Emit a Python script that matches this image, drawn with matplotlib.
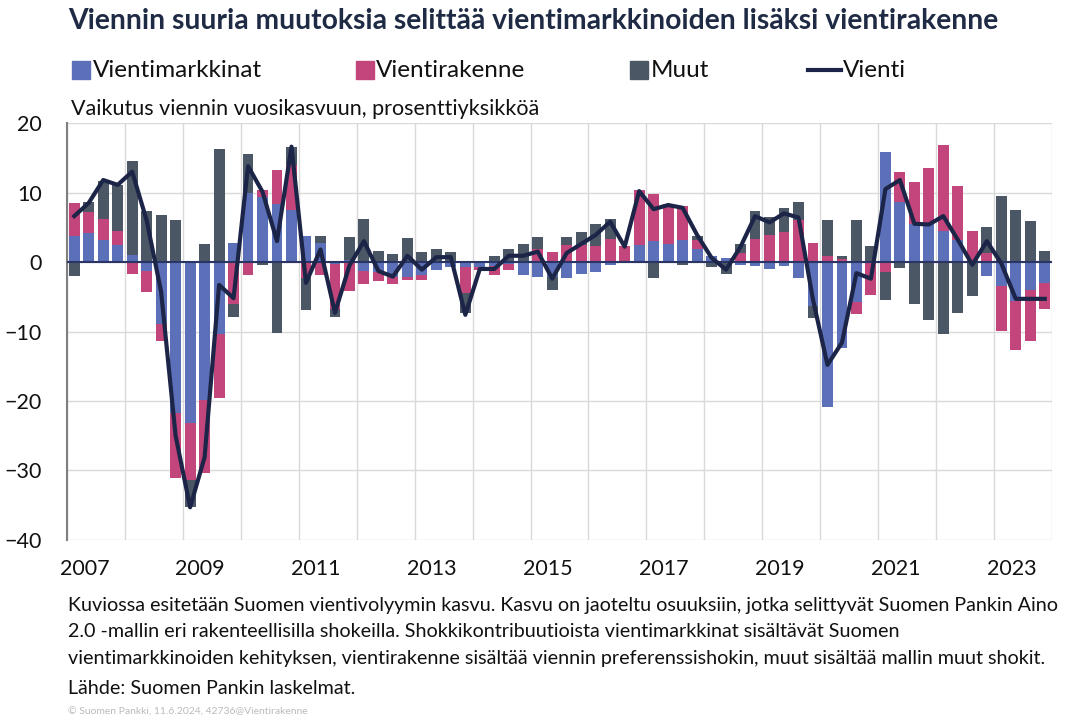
import matplotlib
matplotlib.use('Agg')
import matplotlib.pyplot as plt
import numpy as np
from matplotlib.patches import Rectangle
from matplotlib.lines import Line2D

plt.rcParams['font.family'] = ['Lato', 'DejaVu Sans']

# neljännesvuodet 2007Q1 - 2023Q4
vientimarkkinat = [3.8, 4.2, 3.1, 2.5, 1.0, -1.3, -8.9, -21.7, -23.2, -19.9, -10.3, 2.8,
                   10.0, 9.4, 8.3, 7.5, 3.7, 2.8, -0.3, 0.3, -1.3, -1.4, -2.1, -2.2,
                   -1.9, -1.1, -0.7, -0.7, -0.7, -0.6, -0.3, -1.8, -2.2, -2.1, -2.3, -1.7,
                   -1.5, -0.4, 0.0, 2.5, 3.0, 2.6, 3.1, 1.9, 0.9, 0.6, -0.4, -0.6,
                   -1.0, -0.6, -2.3, -6.4, -20.8, -12.4, -5.8, 0.0, 15.9, 8.7, 5.4, 5.4,
                   4.4, 3.2, 0.0, -2.0, -3.4, -5.6, -4.0, -3.0]
vientirakenne = [4.7, 3.0, 3.1, 2.0, -1.7, -3.0, -2.4, -9.4, -8.1, -10.5, -9.2, -6.1,
                 -1.8, 1.0, 5.0, 6.5, -2.3, -1.8, -6.5, -4.1, -1.8, -1.4, -1.1, -0.4,
                 -0.7, 0.0, 0.0, -3.7, -0.4, -1.2, -0.8, 0.0, 1.9, 1.4, 2.5, 2.5,
                 2.3, 3.3, 2.3, 7.8, 6.8, 5.7, 5.0, 1.2, 0.0, 0.0, 1.3, 3.3,
                 3.9, 4.3, 6.1, 2.7, 0.9, 0.5, -1.7, -4.8, -1.5, 4.2, 6.1, 8.2,
                 12.5, 7.7, 4.5, 1.3, -6.5, -7.1, -7.3, -3.8]
muut = [-2.0, 1.4, 5.4, 6.6, 13.5, 7.4, 6.8, 6.0, -4.0, 2.6, 16.2, -1.8,
        5.6, -0.4, -10.2, 2.6, -4.6, 0.9, -1.1, 3.3, 6.2, 1.6, 1.1, 3.5,
        1.4, 1.9, 1.4, -3.0, 0.2, 0.8, 1.9, 2.6, 1.7, -1.9, 1.1, 1.8,
        3.1, 2.9, 0.0, 0.0, -2.3, -0.2, -0.5, 0.7, -0.7, -1.7, 1.3, 4.0,
        2.6, 3.5, 2.5, -1.7, 5.1, 0.3, 6.0, 2.3, -4.0, -0.9, -6.0, -8.3,
        -10.4, -7.4, -4.9, 3.7, 9.5, 7.5, 5.9, 1.6]
vienti = [6.6, 8.5, 11.8, 11.1, 13.0, 6.0, -4.3, -25.0, -35.3, -28.1, -3.3, -5.2,
          13.8, 10.1, 3.0, 16.6, -3.0, 1.8, -7.3, -0.5, 3.0, -1.3, -2.1, 0.9,
          -1.1, 0.7, 0.7, -7.6, -1.0, -1.0, 0.9, 0.9, 1.5, -2.4, 1.3, 2.6,
          3.9, 5.8, 2.2, 10.2, 7.6, 8.2, 7.8, 3.9, 0.6, -1.1, 2.2, 6.6,
          5.7, 7.0, 6.4, -5.4, -14.8, -11.6, -1.6, -2.4, 10.5, 11.8, 5.5, 5.4,
          6.6, 3.2, -0.4, 3.0, -0.2, -5.3, -5.3, -5.3]

vuodet = list(range(2007, 2024, 2))
sarjat = ['Vientimarkkinat', 'Vientirakenne', 'Muut']
varit = ['#5b70b8', '#c2467b', '#4c5766']
viivan_vari = '#1c2547'

fig = plt.figure(figsize=(10.75, 7.22), dpi=100)
ax = fig.add_axes([0.0623, 0.2521, 0.9163, 0.5775])

x = np.arange(len(vienti))
pos_pohja = np.zeros(len(x))
neg_pohja = np.zeros(len(x))
for nimi, arvot, vari in zip(sarjat, [vientimarkkinat, vientirakenne, muut], varit):
    arvot = np.array(arvot)
    pos = np.where(arvot > 0, arvot, 0)
    neg = np.where(arvot < 0, arvot, 0)
    ax.bar(x, pos, 0.75, bottom=pos_pohja, color=vari, zorder=2)
    ax.bar(x, neg, 0.75, bottom=neg_pohja, color=vari, zorder=2)
    pos_pohja += pos
    neg_pohja += neg

ax.axhline(0, color='#2a3566', lw=1.5, zorder=3)
ax.plot(x, vienti, color=viivan_vari, lw=3, zorder=4, solid_joinstyle='round')

ax.set_xlim(-0.5, len(x) - 0.5)
ax.set_ylim(-40, 20)
ax.set_yticks(range(-40, 21, 10))
ax.set_xticks(np.arange(len(x) + 1)[::4] - 0.5, minor=True)
ax.set_xticks([(v - 2007) * 4 + 0.7 for v in vuodet])
ax.set_xticklabels([str(v) for v in vuodet])
ax.grid(True, axis='y', color='#d9d9d9', lw=1, zorder=0)
ax.grid(True, axis='x', which='minor', color='#d9d9d9', lw=1, zorder=0)
ax.tick_params(axis='both', which='both', length=0, labelsize=15.5, colors='#111111')
ax.tick_params(axis='x', pad=14)
ax.tick_params(axis='y', pad=18)
for s in ['top', 'right', 'bottom']:
    ax.spines[s].set_visible(False)
ax.spines['left'].set_color('#7f7f7f')
ax.spines['left'].set_linewidth(1.5)

# otsikko ja selitteet
fig.text(0.063, 0.971, 'Viennin suuria muutoksia selittää vientimarkkinoiden lisäksi vientirakenne',
         fontsize=20.3, fontweight='bold', color='#1f2a44', va='center')
sel_y = 0.903
for nimi, vari, xs in zip(sarjat, varit, [0.067, 0.331, 0.586]):
    fig.add_artist(Rectangle((xs, sel_y - 0.012), 0.017, 0.024, color=vari,
                             transform=fig.transFigure))
    fig.text(xs + 0.019, sel_y, nimi, fontsize=17.5, va='center', color='#111111')
fig.add_artist(Line2D([0.752, 0.782], [sel_y, sel_y], color=viivan_vari, lw=3,
                      transform=fig.transFigure))
fig.text(0.784, sel_y, 'Vienti', fontsize=17.5, va='center', color='#111111')

fig.text(0.066, 0.849, 'Vaikutus viennin vuosikasvuun, prosenttiyksikköä', fontsize=15.5,
         va='center', color='#111111')

alaviite = ['Kuviossa esitetään Suomen vientivolyymin kasvu. Kasvu on jaoteltu osuuksiin, jotka selittyvät Suomen Pankin Aino',
            '2.0 -mallin eri rakenteellisilla shokeilla. Shokkikontribuutioista vientimarkkinat sisältävät Suomen',
            'vientimarkkinoiden kehityksen, vientirakenne sisältää viennin preferenssishokin, muut sisältää mallin muut shokit.']
for k, rivi in enumerate(alaviite):
    fig.text(0.063, 0.162 - k * 0.037, rivi, fontsize=14.2, va='center', color='#111111')
fig.text(0.063, 0.047, 'Lähde: Suomen Pankin laskelmat.', fontsize=14.2, va='center', color='#111111')
fig.text(0.063, 0.014, '© Suomen Pankki, 11.6.2024, 42736@Vientirakenne', fontsize=7.5,
         va='center', color='#bbbbbb')

fig.savefig('out.png', dpi=100)
